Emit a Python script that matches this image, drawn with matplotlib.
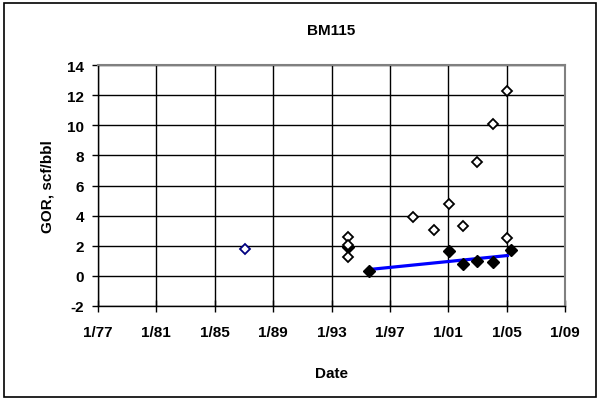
import matplotlib
matplotlib.use("Agg")
import matplotlib.pyplot as plt
from matplotlib.patches import Rectangle

plt.rcParams['font.family'] = ['Liberation Sans', 'DejaVu Sans']
plt.rcParams['axes.unicode_minus'] = False

# Data (decimal years, GOR scf/bbl)
hollow_x = [1994.1, 1994.1, 1994.1, 1998.6, 2000.05, 2001.05, 2002.0, 2002.95, 2004.1, 2005.05, 2005.05]
hollow_y = [2.6, 2.05, 1.25, 3.9, 3.05, 4.8, 3.3, 7.55, 10.1, 12.25, 2.5]
filled_x = [1994.1, 1995.55, 2001.05, 2002.0, 2002.95, 2004.1, 2005.3]
filled_y = [1.9, 0.3, 1.65, 0.8, 1.0, 0.9, 1.7]
blue_x = [1987.05]
blue_y = [1.8]
trend_x = [1995.55, 2005.05]
trend_y = [0.42, 1.35]

x_ticks = [1977, 1981, 1985, 1989, 1993, 1997, 2001, 2005, 2009]
x_labels = ['1/77', '1/81', '1/85', '1/89', '1/93', '1/97', '1/01', '1/05', '1/09']
y_ticks = [-2, 0, 2, 4, 6, 8, 10, 12, 14]

fig = plt.figure(figsize=(6.0, 4.02), dpi=100)
ax = fig.add_axes([98/600, 1-307/402, (565-98)/600, (307-66)/402])

ax.set_xlim(1977, 2009)
ax.set_ylim(-2, 14)
ax.set_xticks(x_ticks)
ax.set_xticklabels(x_labels)
ax.set_yticks(y_ticks)

ax.grid(True, color='black', linewidth=1.0)
ax.set_axisbelow(True)

for side in ['top', 'right']:
    ax.spines[side].set_color('#808080')
    ax.spines[side].set_linewidth(1.5)
for side in ['left', 'bottom']:
    ax.spines[side].set_color('black')
    ax.spines[side].set_linewidth(1.0)

ax.tick_params(axis='x', direction='inout', length=8, width=1, pad=10, labelsize=11)
ax.tick_params(axis='y', direction='out', length=4, width=1, pad=6, labelsize=11)
for lab in ax.get_xticklabels() + ax.get_yticklabels():
    lab.set_fontweight('bold')

ax.plot(trend_x, trend_y, color='#0000FF', linewidth=2.3, zorder=3)
ax.plot(filled_x, filled_y, linestyle='none', marker='D', markersize=6.2,
        markerfacecolor='black', markeredgecolor='black', zorder=4)
ax.plot(hollow_x, hollow_y, linestyle='none', marker='D', markersize=5.2,
        markerfacecolor='white', markeredgecolor='black', markeredgewidth=1.3, zorder=5)
ax.plot(blue_x, blue_y, linestyle='none', marker='D', markersize=5.2,
        markerfacecolor='white', markeredgecolor='#000080', markeredgewidth=1.3, zorder=5)

ax.set_title('BM115', fontsize=11, fontweight='bold', pad=22)
ax.set_xlabel('Date', fontsize=11, fontweight='bold', labelpad=19)
ax.set_ylabel('GOR, scf/bbl', fontsize=11, fontweight='bold', labelpad=9)

fig.patches.append(Rectangle((4/600, 4/402), 592/600, 394/402, transform=fig.transFigure,
                             fill=False, edgecolor='black', linewidth=1.2))

fig.savefig('out.png', dpi=100)
